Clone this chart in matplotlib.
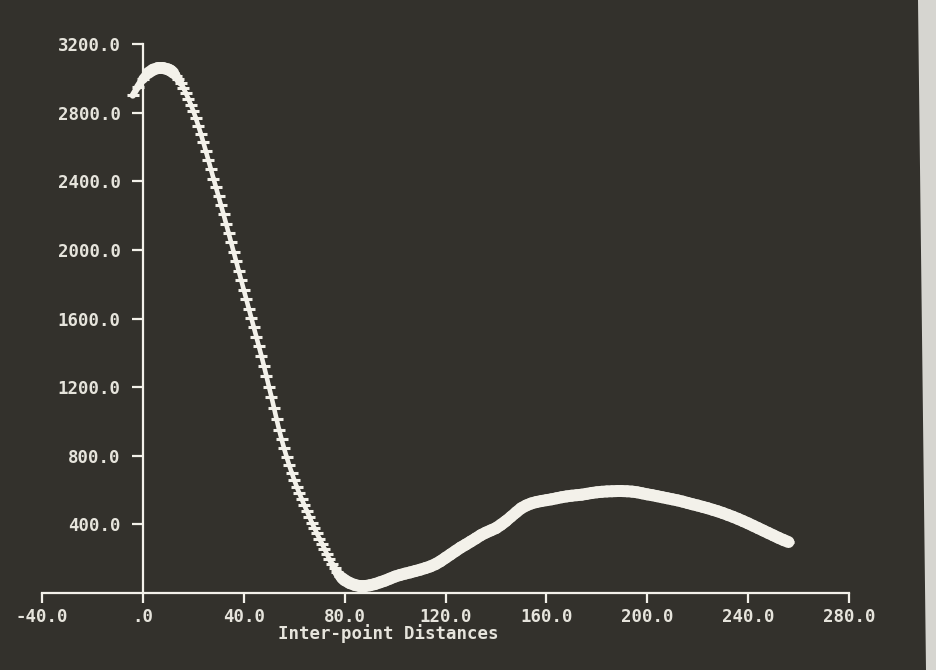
import matplotlib
matplotlib.use("Agg")
import matplotlib.pyplot as plt
import numpy as np
from matplotlib.patches import Polygon
from matplotlib.collections import LineCollection

# ---- data ----
dist = ([-4, -2, 0, 2, 4, 6, 8, 10]
        + list(range(11, 81))
        + list(range(82, 258, 2)))
value = [2900, 2950, 2995, 3030, 3050, 3060, 3060, 3052,
         # 11 .. 80, step 1
         3045, 3033, 3016, 2996, 2973, 2945, 2915, 2882, 2847, 2810,
         2768, 2723, 2676, 2626, 2574, 2522, 2469, 2416, 2364, 2312,
         2259, 2207, 2153, 2098, 2043, 1988, 1933, 1878, 1823, 1768,
         1713, 1658, 1603, 1548, 1493, 1438, 1382, 1324, 1264, 1202,
         1142, 1079, 1014, 953, 896, 843, 793, 746, 702, 660,
         619, 583, 547, 512, 479, 445, 410, 379, 348, 317,
         288, 258, 226, 196, 168, 143, 120, 102, 87, 75,
         # 82 .. 256, step 2
         58, 47, 40, 40, 45, 52, 62, 72, 84, 96,
         105, 113, 120, 128, 136, 145, 155, 168, 185, 205,
         225, 245, 265, 282, 300, 318, 337, 352, 365, 378,
         398, 420, 445, 470, 494, 510, 522, 530, 536, 541,
         546, 552, 558, 563, 567, 570, 573, 578, 583, 587,
         590, 592, 593, 594, 594, 593, 591, 587, 581, 575,
         570, 564, 558, 552, 546, 540, 533, 525, 517, 510,
         502, 494, 485, 476, 466, 455, 444, 432, 419, 406,
         392, 378, 364, 350, 336, 322, 309, 297]

x_ticks = [-40, 0, 40, 80, 120, 160, 200, 240, 280]
x_tick_labels = ["-40.0", ".0", "40.0", "80.0", "120.0", "160.0", "200.0", "240.0", "280.0"]
y_ticks = [400, 800, 1200, 1600, 2000, 2400, 2800, 3200]
y_tick_labels = ["400.0", "800.0", "1200.0", "1600.0", "2000.0", "2400.0", "2800.0", "3200.0"]
x_label = "Inter-point Distances"

BG = "#33312c"
FG = "#f3f1ea"
TXT = "#e6e4dc"
FONT = "DejaVu Sans Mono"

W, H = 936, 670
fig = plt.figure(figsize=(W / 100, H / 100), dpi=100, facecolor=BG)

# light photo border at right edge
fig.patches.append(Polygon([(918 / W, 1), (1, 1), (1, 0), (926 / W, 0)],
                           closed=True, transform=fig.transFigure,
                           facecolor="#d6d5d0", edgecolor="none", zorder=0))

left, right = 42, 849
bottom, top = 593, 44
ax = fig.add_axes([left / W, (H - bottom) / H, (right - left) / W, (bottom - top) / H])
ax.set_facecolor("none")
ax.set_xlim(-40, 280)
ax.set_ylim(0, 3200)

for s in ["top", "right"]:
    ax.spines[s].set_visible(False)
ax.spines["left"].set_position(("data", 0))
ax.spines["left"].set_bounds(0, 3200)
ax.spines["bottom"].set_bounds(-40, 280)
for s in ["left", "bottom"]:
    ax.spines[s].set_color(FG)
    ax.spines[s].set_linewidth(1.6)

ax.set_xticks(x_ticks)
ax.set_xticklabels(x_tick_labels)
ax.set_yticks(y_ticks)
ax.set_yticklabels(y_tick_labels)
ax.tick_params(axis="x", direction="out", length=7.5, width=1.6, color=FG,
               pad=3, labelcolor=TXT, labelsize=12.5)
ax.tick_params(axis="y", direction="out", length=8, width=1.6, color=FG,
               pad=8, labelcolor=TXT, labelsize=12.5)
for lab in ax.get_xticklabels() + ax.get_yticklabels():
    lab.set_family(FONT)
    lab.set_weight("bold")

# the curve: a glowing band, thick where the trace is flat, thin where steep
xd = np.asarray(dist, dtype=float)
yd = np.asarray(value, dtype=float)
fig.canvas.draw()
pts = ax.transData.transform(np.column_stack([xd, yd]))
dpx = np.diff(pts, axis=0)
slope = np.abs(dpx[:, 1]) / np.maximum(np.abs(dpx[:, 0]), 1e-6)
widths = 3.3 + 5.3 * np.clip((2.0 - slope) / 1.2, 0, 1)
segs = np.stack([np.column_stack([xd[:-1], yd[:-1]]),
                 np.column_stack([xd[1:], yd[1:]])], axis=1)
lc = LineCollection(segs, linewidths=widths, colors=FG, capstyle="round",
                    joinstyle="round", clip_on=False, zorder=3)
ax.add_collection(lc)
# short horizontal point marks along the trace
ax.plot(xd, yd, linestyle="none", marker="_", markersize=8.5,
        markeredgewidth=2.2, color=FG, clip_on=False, zorder=3)

fig.text(388 / W, (H - 634) / H, x_label, ha="center", va="center",
         family=FONT, weight="bold", fontsize=12.5, color=TXT)

fig.savefig("out.png", dpi=100, facecolor=BG)
